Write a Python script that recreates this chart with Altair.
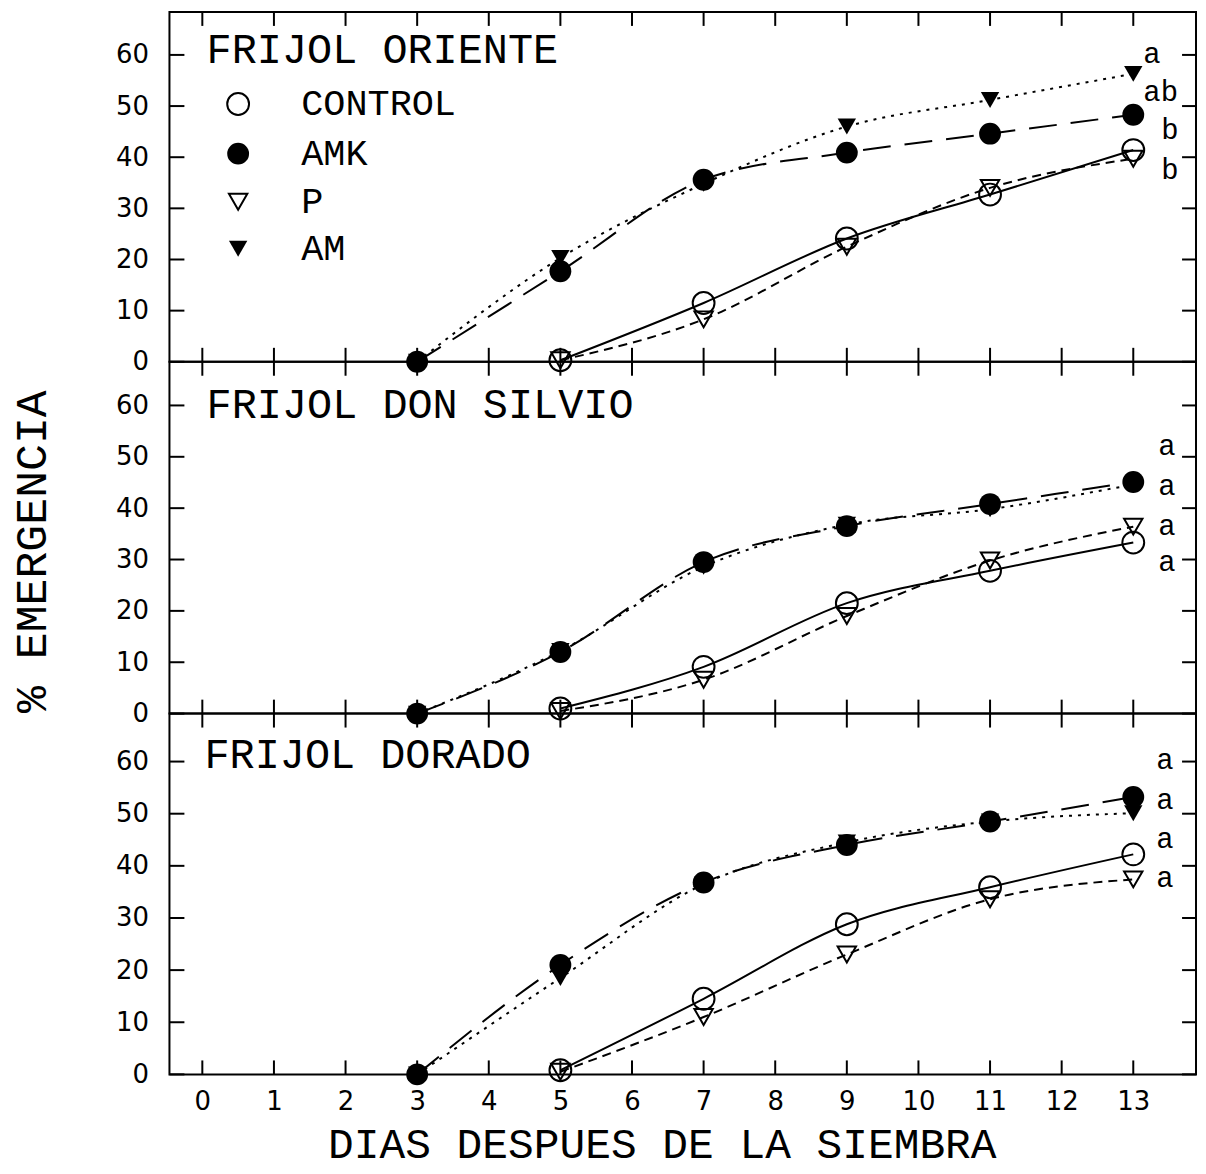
import altair as alt
import pandas as pd

# ---------------- data ----------------
PANELS = ["FRIJOL ORIENTE", "FRIJOL DON SILVIO", "FRIJOL DORADO"]
SERIES = ["CONTROL", "P", "AMK", "AM"]

DAYS_FILLED = [3, 5, 7, 9, 11, 13]   # AMK, AM
DAYS_OPEN = [5, 7, 9, 11, 13]        # CONTROL, P

CONTROL = [[0.3, 11.5, 24.1, 32.7, 41.4],
           [1.0, 9.1, 21.5, 27.8, 33.3],
           [0.8, 14.5, 28.8, 35.9, 42.2]]
P = [[0.3, 8.3, 22.5, 34.0, 39.7],
     [0.5, 6.6, 19.0, 29.8, 36.4],
     [0.5, 11.0, 23.0, 33.6, 37.4]]
AMK = [[0.0, 17.7, 35.6, 40.9, 44.6, 48.3],
       [0.0, 12.0, 29.5, 36.5, 40.8, 45.1],
       [0.0, 21.0, 36.8, 44.0, 48.5, 53.2]]
AM = [[0.0, 20.3, 34.8, 46.0, 51.2, 56.3],
      [0.0, 12.2, 28.6, 36.8, 39.8, 44.6],
      [0.0, 18.5, 36.5, 44.5, 48.5, 50.1]]

LETTERS = [["a", "ab", "b", "b"], ["a", "a", "a", "a"], ["a", "a", "a", "a"]]
LETTER_X = [[13.14, 13.14, 13.39, 13.39], [13.35, 13.35, 13.35, 13.35], [13.32, 13.32, 13.32, 13.32]]
LETTER_Y = [[60.2, 52.8, 45.3, 37.4], [52.1, 44.3, 36.6, 29.5], [60.3, 52.7, 45.1, 37.7]]

TITLE_X = [0.06, 0.06, 0.03]
TITLE_Y = [61.0, 60.0, 61.3]

LEGEND_LABELS = ["CONTROL", "AMK", "P", "AM"]
LEGEND_Y = [50.4, 40.7, 31.3, 22.1]
LEGEND_MARK_X = [0.5, 0.5, 0.5, 0.5]
LEGEND_TEXT_X = [1.38, 1.38, 1.38, 1.38]

X_TICKS = list(range(0, 14))
Y_TICKS = [0, 10, 20, 30, 40, 50, 60]
X_DOMAIN = [-0.459, 13.876]
Y_MAX = [68.4, 68.5, 69.2]

# ---------------- layout / styles ----------------
WIDTH = 1030
HEIGHTS = [351, 353, 362]
TICK_LEN = 14

STYLE = {
    "CONTROL": dict(shape="circle", filled=False, size=480, dash=None),
    "P": dict(shape="triangle-down", filled=False, size=340, dash=[9, 6]),
    "AMK": dict(shape="circle", filled=True, size=480, dash=[28, 14]),
    "AM": dict(shape="triangle-down", filled=True, size=340, dash=[3, 6]),
}

rows = []
for i, name in enumerate(PANELS):
    for s, days, vals in [("CONTROL", DAYS_OPEN, CONTROL[i]), ("P", DAYS_OPEN, P[i]),
                          ("AMK", DAYS_FILLED, AMK[i]), ("AM", DAYS_FILLED, AM[i])]:
        for d, v in zip(days, vals):
            rows.append({"panel": name, "series": s, "day": d, "value": v})
df = pd.DataFrame(rows)

MONO = "Liberation Mono"
SANS = "DejaVu Sans"


def panel(i):
    H = HEIGHTS[i]
    xs = alt.Scale(domain=X_DOMAIN, nice=False, zero=False)
    ys = alt.Scale(domain=[0, Y_MAX[i]], nice=False, zero=False)
    if i == 2:
        xaxis = alt.Axis(values=X_TICKS, title="DIAS DESPUES DE LA SIEMBRA", ticks=False, tickSize=0,
                         domain=False, grid=False, labelFont=SANS, labelFontSize=26, labelPadding=14,
                         labelColor="black", titleFont=MONO, titleFontSize=43, titleFontWeight="normal",
                         titleColor="black", titlePadding=9, titleX=494, labelFlush=False)
    else:
        xaxis = None
    ykw = dict(values=Y_TICKS, ticks=False, tickSize=0,
               domain=False, grid=False, labelFont=SANS, labelFontSize=26, labelPadding=21,
               labelColor="black", titleFont=MONO, titleFontSize=45, titleFontWeight="normal",
               titleColor="black", titlePadding=61, labelFlush=False)
    if i == 1:
        yaxis = alt.Axis(title="% EMERGENCIA", titleY=190, **ykw)
    else:
        yaxis = alt.Axis(title=None, **ykw)

    def X(f="day"):
        return alt.X(f"{f}:Q", scale=xs, axis=xaxis)

    def Y(f="value"):
        return alt.Y(f"{f}:Q", scale=ys, axis=yaxis)

    layers = []
    sub = df[df["panel"] == PANELS[i]]
    for s in SERIES:
        st = STYLE[s]
        d = sub[sub["series"] == s]
        kw = dict(interpolate="monotone", color="black", strokeWidth=2)
        if st["dash"] is not None:
            kw["strokeDash"] = st["dash"]
        layers.append(alt.Chart(d).mark_line(**kw).encode(x=X(), y=Y()))
    for s in SERIES:
        st = STYLE[s]
        d = sub[sub["series"] == s]
        layers.append(alt.Chart(d).mark_point(shape=st["shape"], filled=st["filled"], size=st["size"],
                                              color="black", strokeWidth=2, opacity=1).encode(x=X(), y=Y()))

    # panel title
    tdf = pd.DataFrame({"label": [PANELS[i]], "day": [TITLE_X[i]], "value": [TITLE_Y[i]]})
    layers.append(alt.Chart(tdf).mark_text(align="left", baseline="middle", font=MONO, fontSize=42,
                                           color="black").encode(x=X(), y=Y(), text="label:N"))
    # significance letters
    ldf = pd.DataFrame({"label": LETTERS[i], "day": LETTER_X[i], "value": LETTER_Y[i]})
    layers.append(alt.Chart(ldf).mark_text(align="left", baseline="middle", font=MONO, fontSize=29,
                                           color="black").encode(x=X(), y=Y(), text="label:N"))

    # legend (first panel only)
    if i == 0:
        for k, lab in enumerate(LEGEND_LABELS):
            st = STYLE[lab]
            gdf = pd.DataFrame({"day": [LEGEND_MARK_X[k]], "value": [LEGEND_Y[k]]})
            layers.append(alt.Chart(gdf).mark_point(shape=st["shape"], filled=st["filled"], size=st["size"],
                                                    color="black", strokeWidth=2, opacity=1)
                          .encode(x=X(), y=Y()))
        gt = pd.DataFrame({"label": LEGEND_LABELS, "day": LEGEND_TEXT_X, "value": LEGEND_Y})
        layers.append(alt.Chart(gt).mark_text(align="left", baseline="middle", font=MONO, fontSize=37,
                                              color="black").encode(x=X(), y=Y(), text="label:N"))

    # inward ticks on all four sides
    xt = pd.DataFrame({"day": X_TICKS})
    yt = pd.DataFrame({"value": Y_TICKS})
    layers.append(alt.Chart(xt).mark_rule(color="black", strokeWidth=2).encode(
        x=X(), y=alt.value(H), y2=alt.value(H - TICK_LEN)))
    layers.append(alt.Chart(xt).mark_rule(color="black", strokeWidth=2).encode(
        x=X(), y=alt.value(0), y2=alt.value(TICK_LEN)))
    layers.append(alt.Chart(yt).mark_rule(color="black", strokeWidth=2).encode(
        y=Y(), x=alt.value(0), x2=alt.value(TICK_LEN + 1)))
    layers.append(alt.Chart(yt).mark_rule(color="black", strokeWidth=2).encode(
        y=Y(), x=alt.value(WIDTH - TICK_LEN), x2=alt.value(WIDTH)))

    return alt.layer(*layers).properties(width=WIDTH, height=H)


chart = (
    alt.vconcat(panel(0), panel(1), panel(2), spacing=0, bounds="flush")
    .properties(padding={"left": 0, "top": 0, "right": 0, "bottom": 12}, background="white")
    .configure_view(stroke="black", strokeWidth=2)
)

chart.save("out.html", embed_options={"renderer": "svg", "actions": False})
